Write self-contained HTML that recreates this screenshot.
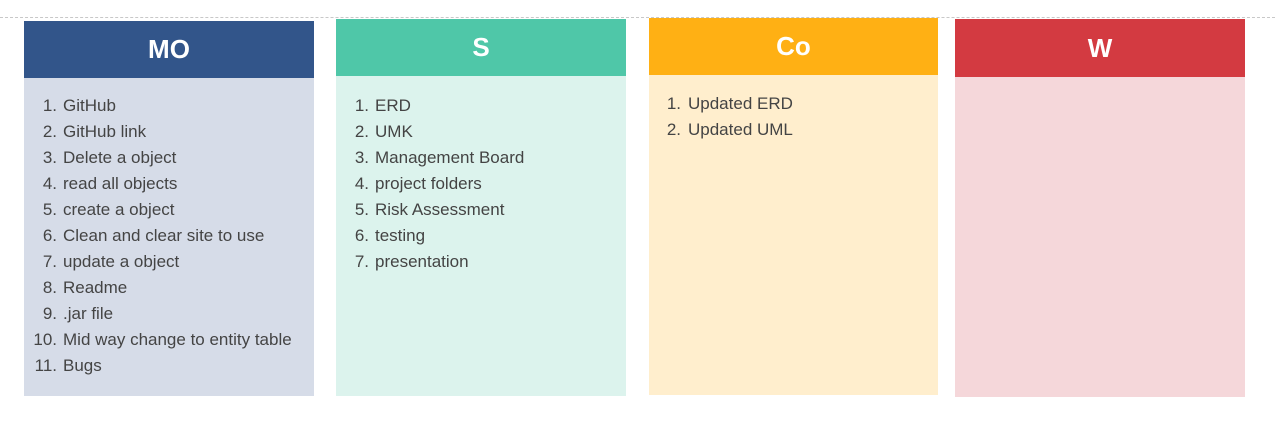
<!DOCTYPE html>
<html><head><meta charset="utf-8"><style>
body{margin:0;width:1275px;height:424px;background:#fff;position:relative;overflow:hidden;font-family:"Liberation Sans",Arial,sans-serif}
.dash{position:absolute;left:0;top:17px;width:1275px;border-top:1px dashed #c8c8c8}
.col{position:absolute;width:290px}
.hd{height:57px;color:#fff;font-weight:bold;font-size:26px;display:flex;align-items:center;justify-content:center}
.bd{position:absolute;left:0;right:0;top:57px;bottom:0}
ol{margin:0;padding:0;position:absolute;top:15px;left:0;right:0;list-style:none;color:#444;font-size:17px}
li{height:26px;line-height:26px;position:relative;padding-left:39px;white-space:nowrap}
li span.n{position:absolute;right:257px;text-align:right}
</style></head><body>
<div class="dash"></div>

<div class="col" style="left:24px;top:21px;height:375px">
<div class="hd" style="background:#32558a">MO</div>
<div class="bd" style="background:#d6dce8">
<ol>
<li><span class="n">1.</span>GitHub</li>
<li><span class="n">2.</span>GitHub link</li>
<li><span class="n">3.</span>Delete a object</li>
<li><span class="n">4.</span>read all objects</li>
<li><span class="n">5.</span>create a object</li>
<li><span class="n">6.</span>Clean and clear site to use</li>
<li><span class="n">7.</span>update a object</li>
<li><span class="n">8.</span>Readme</li>
<li><span class="n">9.</span>.jar file</li>
<li><span class="n">10.</span>Mid way change to entity table</li>
<li><span class="n">11.</span>Bugs</li>
</ol></div></div>

<div class="col" style="left:336px;top:19px;height:377px">
<div class="hd" style="background:#4fc7a8">S</div>
<div class="bd" style="background:#dcf3ed">
<ol style="top:17px">
<li><span class="n">1.</span>ERD</li>
<li><span class="n">2.</span>UMK</li>
<li><span class="n">3.</span>Management Board</li>
<li><span class="n">4.</span>project folders</li>
<li><span class="n">5.</span>Risk Assessment</li>
<li><span class="n">6.</span>testing</li>
<li><span class="n">7.</span>presentation</li>
</ol></div></div>

<div class="col" style="left:649px;top:18px;height:377px;width:289px">
<div class="hd" style="background:#ffb014">Co</div>
<div class="bd" style="background:#ffeecd">
<ol style="top:16px">
<li><span class="n">1.</span>Updated ERD</li>
<li><span class="n">2.</span>Updated UML</li>
</ol></div></div>

<div class="col" style="left:955px;top:19px;height:378px">
<div class="hd" style="background:#d33a41;height:58px">W</div>
<div class="bd" style="background:#f5d7da;top:58px"></div></div>
</body></html>
